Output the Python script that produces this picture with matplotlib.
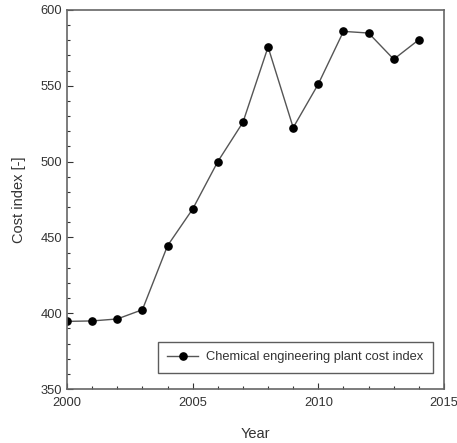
import matplotlib
matplotlib.use("Agg")
import matplotlib.pyplot as plt
from matplotlib.ticker import MultipleLocator

years = [2000, 2001, 2002, 2003, 2004, 2005, 2006, 2007, 2008, 2009, 2010, 2011, 2012, 2013, 2014]
cepci = [394.6, 394.9, 396.2, 402.3, 444.5, 468.7, 500.0, 525.9, 575.6, 522.4, 551.2, 585.9, 584.8, 567.5, 580.4]

plt.rcParams['font.family'] = ['Liberation Sans', 'DejaVu Sans']

fig = plt.figure(figsize=(4.57, 4.43), dpi=100)
ax = fig.add_axes([67/457, 1 - 389/443, (444 - 67)/457, (389 - 10)/443])

ax.plot(years, cepci, color='#555555', lw=1.0, marker='o', ms=5.2,
        mfc='black', mec='black', label='Chemical engineering plant cost index')

ax.set_xlim(2000, 2015)
ax.set_ylim(350, 600)
ax.xaxis.set_major_locator(MultipleLocator(5))
ax.xaxis.set_minor_locator(MultipleLocator(1))
ax.yaxis.set_major_locator(MultipleLocator(50))
ax.yaxis.set_minor_locator(MultipleLocator(10))
ax.tick_params(which='both', direction='in', top=False, right=False, colors='#333333', labelsize=9.3)
ax.tick_params(which='major', length=4, width=0.8)
ax.tick_params(which='minor', length=2.5, width=0.8)
ax.tick_params(axis='x', which='major', pad=6)
for s in ax.spines.values():
    s.set_color('#666666')
    s.set_linewidth(1.2)

ax.set_xlabel('Year', fontsize=10.5, color='#333333', labelpad=13)
ax.set_ylabel('Cost index [-]', fontsize=10.5, color='#333333', labelpad=10)

leg = ax.legend(loc='lower right', bbox_to_anchor=(0.971, 0.042), borderaxespad=0,
                fontsize=9.3, frameon=True, fancybox=False, edgecolor='#333333',
                handlelength=2.4, borderpad=0.75, handletextpad=0.6)
leg.get_frame().set_linewidth(1.0)
for t in leg.get_texts():
    t.set_color('#333333')

fig.savefig('out.png', dpi=100)
